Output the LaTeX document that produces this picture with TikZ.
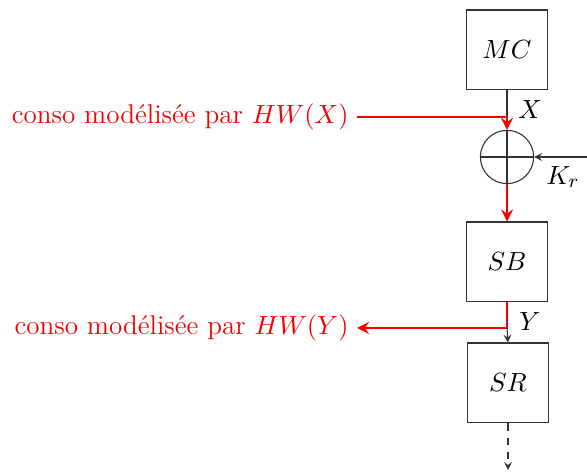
\documentclass[tikz,border=0pt]{standalone}
\usepackage{tikz}
\usetikzlibrary{calc, arrows.meta, positioning}
\definecolor{consoRed}{rgb}{0.95,0,0}
\definecolor{lineGray}{gray}{0.2}

\tikzset{
  blockbox/.style={draw=lineGray, line width=0.45pt, minimum width=33.5pt, minimum height=33.3pt, inner sep=0pt},
  xorsym/.style={draw=lineGray, line width=0.45pt, circle, minimum size=22.2pt, inner sep=0pt},
  redtext/.style={text=consoRed, anchor=east},
  redflow/.style={draw=consoRed, line width=1.2pt},
  wire/.style={draw=lineGray, line width=0.45pt}
}

\begin{document}
\begin{tikzpicture}[x=0.4167pt, y=-0.4167pt, >=stealth, font=\fontsize{11.3}{13.5}\selectfont]
            \useasboundingbox (0,0) rectangle (587,473);
            % blocks of the round
            \node[blockbox] (mc) at (507,50) {$MC$};
            \node[xorsym] (xor) at (507,157) {};
            \node[blockbox] (sb) at (507,262) {$SB$};
            \node[blockbox] (sr) at (508,383) {$SR$};
            \draw[wire] (xor.north) -- (xor.south);
            \draw[wire] (xor.west) -- (xor.east);
            % leakage labels
            \node[redtext] (consoX) at (357,117) {conso modélisée par $HW(X)$};
            \node[redtext] (consoY) at (357,328) {conso modélisée par $HW(Y)$};
            \coordinate (tapX) at (xor.north |- consoX.east);
            \coordinate (tapY) at (sb.south |- consoY.east);
            \coordinate (kin) at (587,157);
            \coordinate (out) at (508,470);
            % wires
            \draw[wire] (mc.south) -- (tapX);
            \draw[redflow, ->] (consoX.east) -- (tapX) -- (xor.north);
            \draw[wire, ->] (kin) -- (xor.east);
            \draw[redflow, ->] (xor.south) -- (sb.north);
            \draw[redflow, ->] (sb.south) -- (tapY) -- (consoY.east);
            \draw[wire, ->] (tapY) -- (sr.north);
            \draw[wire, dashed, ->] (sr.south) -- (out);
            % variable names
            \node (labX) at (530,110) {$X$};
            \node (labK) at (563,177) {$K_r$};
            \node (labY) at (530,322) {$Y$};
        \end{tikzpicture}
\end{document}
